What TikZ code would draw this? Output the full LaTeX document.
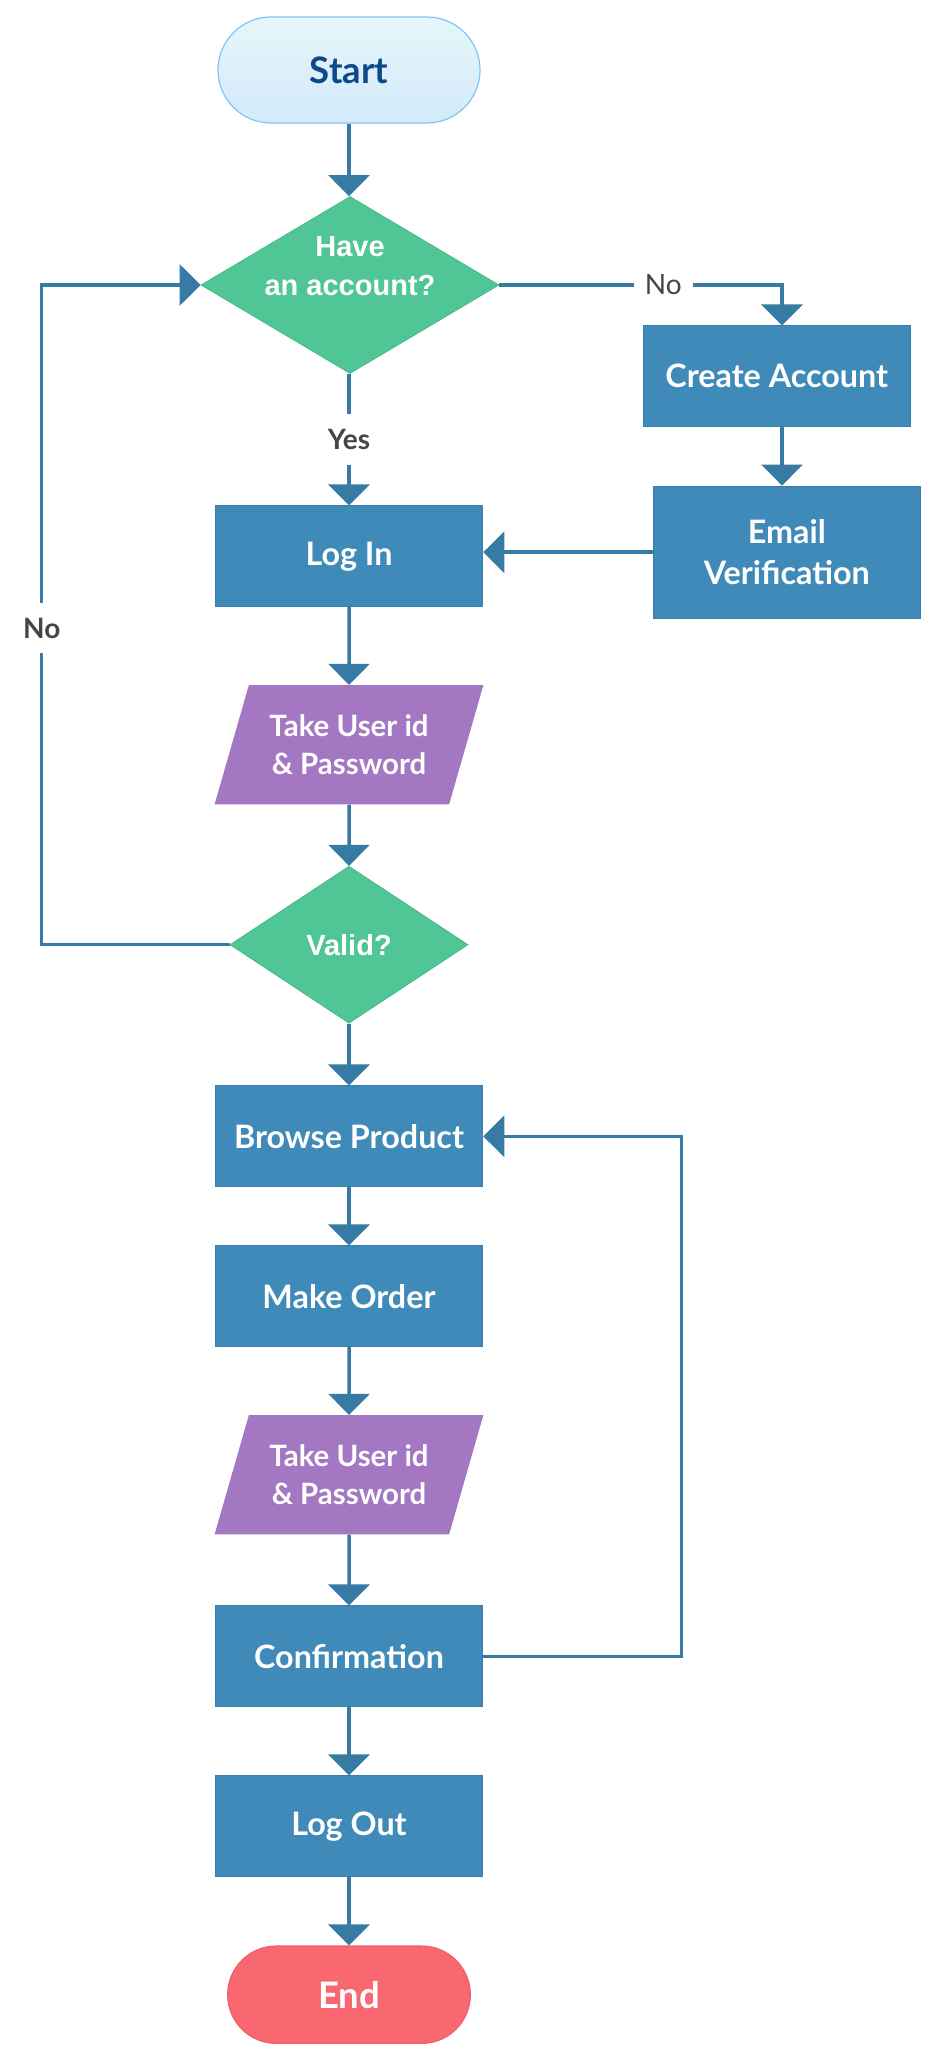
\documentclass[tikz,border=0pt]{standalone}
\usepackage{fontspec}
\setmainfont{Lato}
\newfontfamily\diafont{Liberation Sans}
\usetikzlibrary{shapes.geometric,arrows.meta}

\definecolor{procBlue}{HTML}{3F8AB8}
\definecolor{procEdge}{HTML}{3A7DAB}
\definecolor{flowBlue}{HTML}{377BA5}
\definecolor{decGreen}{HTML}{50C596}
\definecolor{decEdge}{HTML}{47B98A}
\definecolor{ioPurple}{HTML}{A377C2}
\definecolor{startTop}{HTML}{E6F6FA}
\definecolor{startBot}{HTML}{D3EAFA}
\definecolor{startEdge}{HTML}{82C5F4}
\definecolor{startText}{HTML}{0E4A8A}
\definecolor{endRed}{HTML}{F96870}
\definecolor{endEdge}{HTML}{EC5E68}
\definecolor{lblGray}{HTML}{454545}

\begin{document}
\begin{tikzpicture}[x=1pt, y=-1pt,
    terminal/.style={rectangle, line width=1.2pt, font=\fontsize{36.5}{42}\selectfont\bfseries, inner sep=0pt},
    process/.style={rectangle, draw=procEdge, line width=1pt, fill=procBlue, text=white, minimum width=267.5pt, minimum height=100.7pt, align=center, inner sep=0pt, font=\fontsize{32.3}{41}\selectfont\bfseries},
    decision/.style={diamond, aspect=1.68, draw=decEdge, line width=0.8pt, fill=decGreen, text=white, minimum width=298pt, minimum height=177pt, inner sep=0pt, font=\diafont\fontsize{29}{39.3}\selectfont\bfseries},
    dtext/.style={text=white, align=center, inner sep=0pt, font=\diafont\fontsize{29}{39.3}\selectfont\bfseries},
    io/.style={trapezium, trapezium left angle=65.5, trapezium right angle=114.5, trapezium stretches=true, minimum width=269.4pt, minimum height=119.3pt, fill=ioPurple, text=white, align=center, inner sep=0pt, font=\fontsize{29.4}{37.7}\selectfont\bfseries},
    lbl/.style={fill=white, text=lblGray, inner xsep=11pt, inner ysep=15pt, font=\fontsize{28}{32}\selectfont},
    arrow/.style={-{Triangle[length=21pt,width=41pt]}, draw=flowBlue, line width=3.5pt}
]
    \fill[white] (0,0) rectangle (933,2049);
    \useasboundingbox (0,0) rectangle (933,2049);

    % main column
    \node[terminal, top color=startTop, bottom color=startBot, draw=startEdge, text=startText, minimum width=262pt, minimum height=106pt, rounded corners=53pt] (start) at (349,70) {Start};
    \node[decision, label={[dtext, yshift=18.6pt]center:Have\\an account?}] (have) at (350,285) {};
    \node[process] (login) at (349,556.3) {Log In};
    \node[io] (take1) at (349,744.7) {Take User id\\\& Password};
    \node[decision, minimum width=238pt, minimum height=157pt] (valid) at (349,944.7) {Valid?};
    \node[process] (browse) at (349,1136.3) {Browse Product};
    \node[process] (order) at (349,1296.3) {Make Order};
    \node[io] (take2) at (349,1474.7) {Take User id\\\& Password};
    \node[process] (confirm) at (349,1656.3) {Confirmation};
    \node[process] (logout) at (349,1826.3) {Log Out};
    \node[terminal, fill=endRed, draw=endEdge, text=white, minimum width=242.6pt, minimum height=97.3pt, rounded corners=48.6pt] (end) at (349,1994.7) {End};

    % sign up branch
    \node[process] (create) at (776.8,376.3) {Create Account};
    \node[process, minimum height=132.3pt] (email) at (786.8,552.2) {Email\\Verification};

    \coordinate (noturn) at (782,285);
    \coordinate (leftrail) at (41.7,285);
    \coordinate (backturn) at (681.7,1136.3);

    \draw[arrow] (start) -- (have.north -| start);
    \draw[arrow] (have.south -| login) -- node[lbl, font=\fontsize{28}{32}\selectfont\bfseries] {Yes} (login);
    \draw[arrow] (login) -- (take1);
    \draw[arrow] (take1) -- (valid);
    \draw[arrow] (valid) -- (browse);
    \draw[arrow] (browse) -- (order);
    \draw[arrow] (order) -- (take2);
    \draw[arrow] (take2) -- (confirm);
    \draw[arrow] (confirm) -- (logout);
    \draw[arrow] (logout) -- (end);

    \draw[arrow] (have.east) -- node[lbl, pos=0.58] {No} (noturn) -- (noturn |- create.north);
    \draw[arrow] (create.south -| noturn) -- (email.north -| noturn);
    \draw[arrow] (email.west) -- (email.west -| login.east);
    \draw[arrow] (valid.west) -| node[lbl, pos=0.74, font=\fontsize{28}{32}\selectfont\bfseries] {No} (leftrail) -- (have.west);
    \draw[arrow] (confirm.east) -| (backturn) -- (browse.east);
\end{tikzpicture}
\end{document}
